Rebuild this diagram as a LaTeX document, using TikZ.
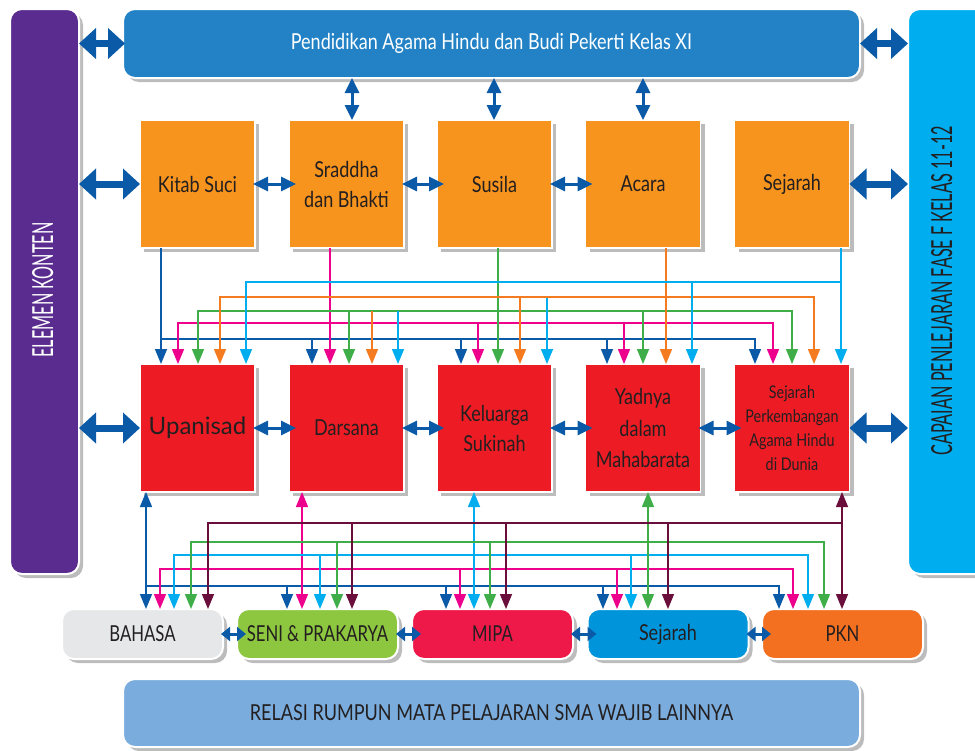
\documentclass[tikz,border=0pt]{standalone}
\usepackage{fontspec}
\setmainfont{Lato}[FakeStretch=0.82]
\newfontfamily\narrowfont{Lato}[FakeStretch=0.56]
\newfontfamily\capsfont{Lato}[FakeStretch=0.76]
\newfontfamily\widefont{Lato}
\usetikzlibrary{arrows.meta,shadows}
\definecolor{cPurple}{HTML}{5B2C8F}
\definecolor{cTop}{HTML}{2282C5}
\definecolor{cCyanBar}{HTML}{00AEEF}
\definecolor{cOrange}{HTML}{F7941E}
\definecolor{cRed}{HTML}{ED1C24}
\definecolor{cGray}{HTML}{E6E7E8}
\definecolor{cGreenBox}{HTML}{8DC63F}
\definecolor{cMipa}{HTML}{EE1849}
\definecolor{cSejBox}{HTML}{0095DA}
\definecolor{cPkn}{HTML}{F37021}
\definecolor{cRelasi}{HTML}{7AADDD}
\definecolor{cText}{HTML}{231F20}
\definecolor{lBlue}{HTML}{0B5AA7}
\definecolor{lMag}{HTML}{EC008C}
\definecolor{lGreen}{HTML}{3FAE49}
\definecolor{lOrange}{HTML}{F47B20}
\definecolor{lCyan}{HTML}{00AEEF}
\definecolor{lMaroon}{HTML}{6A0F3B}
\begin{document}
\begin{tikzpicture}[x=1pt,y=-1pt,
  box/.style={draw=white, line width=1.5pt, outer sep=0pt, inner sep=2pt, align=center, text=cText,
    font=\fontsize{22}{30}\selectfont,
    drop shadow={shadow xshift=4pt, shadow yshift=-4pt, opacity=0.35, fill=black!75}},
  obox/.style={box, fill=cOrange, minimum width=115pt, minimum height=128pt},
  rbox/.style={box, fill=cRed, minimum width=115pt, minimum height=128pt},
  bbox/.style={box, rounded corners=12pt, minimum width=161pt, minimum height=50pt, line width=2pt,
    font=\capsfont\fontsize{22}{30}\selectfont},
  bar/.style={box, rounded corners=12pt, line width=2pt},
  cl/.style={line width=1.5pt},
  one/.style={-{Triangle[width=12pt,length=15pt]}},
  two/.style={{Triangle[width=12pt,length=15pt]}-{Triangle[width=12pt,length=15pt]}},
  fat/.style={draw=lBlue, line width=7pt, {Triangle[width=30pt,length=17pt]}-{Triangle[width=30pt,length=17pt]}},
  med/.style={draw=lBlue, line width=3pt, {Triangle[width=14pt,length=15pt]}-{Triangle[width=14pt,length=15pt]}},
  sm/.style={draw=lBlue, line width=3pt, {Triangle[width=14pt,length=9pt]}-{Triangle[width=14pt,length=9pt]}},
  rottext/.style={rotate=90, anchor=base, font=\narrowfont\fontsize{29}{29}\selectfont}
]
\useasboundingbox (0,0) rectangle (975,750);

% side bars and top/bottom bars
\node[bar, fill=cPurple, minimum width=69pt, minimum height=565pt] (elemen) at (44.5,291.5) {};
\node[rottext, text=white] (eltext) at (53,290) {ELEMEN KONTEN};
\node[bar, fill=cCyanBar, minimum width=82pt, minimum height=565pt] (capbar) at (949,291.5) {};
\node[rottext, text=cText] (captext) at (952,291) {CAPAIAN PENLEJARAN FASE F KELAS 11-12};
\node[bar, fill=cTop, text=white, minimum width=737pt, minimum height=69pt] (top) at (491.5,43.5) {Pendidikan Agama Hindu dan Budi Pekerti Kelas XI};
\node[bar, fill=cRelasi, minimum width=737pt, minimum height=68pt] (relasi) at (491.5,713) {RELASI RUMPUN MATA PELAJARAN SMA WAJIB LAINNYA};

% orange row
\node[obox] (k1) at (197.5,184) {Kitab Suci};
\node[obox] (k2) at (346.5,184) {Sraddha\\dan Bhakti};
\node[obox] (k3) at (494.5,184) {Susila};
\node[obox] (k4) at (643,184) {Acara};
\node[obox] (k5) at (792,184) {Sejarah};

% red row
\node[rbox, font=\widefont\fontsize{24}{30}\selectfont] (r1) at (197.5,428) {Upanisad};
\node[rbox] (r2) at (346.5,428) {Darsana};
\node[rbox] (r3) at (494.5,428) {Keluarga\\Sukinah};
\node[rbox, font=\fontsize{22}{31.5}\selectfont] (r4) at (643,428) {Yadnya\\dalam\\Mahabarata};
\node[rbox, font=\fontsize{17.5}{24}\selectfont] (r5) at (792,428) {Sejarah\\Perkembangan\\Agama Hindu\\di Dunia};

% bottom row
\node[bbox, fill=cGray] (b1) at (142.5,634) {BAHASA};
\node[bbox, fill=cGreenBox] (b2) at (317.5,634) {SENI \& PRAKARYA};
\node[bbox, fill=cMipa] (b3) at (492.5,634) {MIPA};
\node[bbox, fill=cSejBox, font=\fontsize{22}{30}\selectfont] (b4) at (668,634) {Sejarah};
\node[bbox, fill=cPkn] (b5) at (842.5,634) {PKN};

% fat arrows to side bars
\draw[fat] (elemen.east |- top.west) -- ([xshift=2pt]top.west);
\draw[fat] (elemen.east |- k1.west) -- (k1.west);
\draw[fat] (elemen.east |- r1.west) -- (r1.west);
\draw[fat] (top.east) -- (capbar.west |- top.east);
\draw[fat] (k5.east) -- (capbar.west |- k5.east);
\draw[fat] (r5.east) -- (capbar.west |- r5.east);

% top bar to orange boxes
\draw[med] (352,0 |- top.south) -- (352,0 |- k2.north);
\draw[med] (494,0 |- top.south) -- (494,0 |- k3.north);
\draw[med] (643,0 |- top.south) -- (643,0 |- k4.north);

% arrows between boxes in rows
\draw[med] ([xshift=-2pt]k1.east) -- ([xshift=7pt]k2.west);
\draw[med] ([xshift=-2pt]k2.east) -- ([xshift=7pt]k3.west);
\draw[med] ([xshift=-2pt]k3.east) -- ([xshift=7pt]k4.west);
\draw[med] ([xshift=-2pt]r1.east) -- ([xshift=7pt]r2.west);
\draw[med] ([xshift=-2pt]r2.east) -- ([xshift=7pt]r3.west);
\draw[med] ([xshift=-2pt]r3.east) -- ([xshift=7pt]r4.west);
\draw[med] ([xshift=-2pt]r4.east) -- ([xshift=7pt]r5.west);

\draw[sm] ([xshift=-2pt]b1.east) -- ([xshift=9pt]b2.west);
\draw[sm] ([xshift=-2pt]b2.east) -- ([xshift=9pt]b3.west);
\draw[sm] ([xshift=-2pt]b3.east) -- ([xshift=9pt]b4.west);
\draw[sm] ([xshift=-2pt]b4.east) -- ([xshift=9pt]b5.west);

% ---- orange -> red connectors ----
% Kitab Suci (blue)
\draw[cl, lBlue, one] (161,0 |- k1.south) -- (161,0 |- r1.north);
\draw[cl, lBlue, one] (161,339) -- (755,339) -- (755,0 |- r5.north);
\draw[cl, lBlue, one] (312,339) -- (312,0 |- r2.north);
\draw[cl, lBlue, one] (461,339) -- (461,0 |- r3.north);
\draw[cl, lBlue, one] (607,339) -- (607,0 |- r4.north);
% Sraddha (magenta)
\draw[cl, lMag, one] (330,0 |- k2.south) -- (330,0 |- r2.north);
\draw[cl, lMag, two] (178,0 |- r1.north) -- (178,323) -- (773,323) -- (773,0 |- r5.north);
\draw[cl, lMag, one] (478,323) -- (478,0 |- r3.north);
\draw[cl, lMag, one] (624,323) -- (624,0 |- r4.north);
% Susila (green)
\draw[cl, lGreen, one] (498,0 |- k3.south) -- (498,0 |- r3.north);
\draw[cl, lGreen, two] (198,0 |- r1.north) -- (198,311) -- (792,311) -- (792,0 |- r5.north);
\draw[cl, lGreen, one] (349,311) -- (349,0 |- r2.north);
\draw[cl, lGreen, one] (643,311) -- (643,0 |- r4.north);
% Acara (orange)
\draw[cl, lOrange, one] (666,0 |- k4.south) -- (666,0 |- r4.north);
\draw[cl, lOrange, two] (220,0 |- r1.north) -- (220,297) -- (814,297) -- (814,0 |- r5.north);
\draw[cl, lOrange, one] (372,311) -- (372,0 |- r2.north);
\draw[cl, lOrange, one] (520,297) -- (520,0 |- r3.north);
% Sejarah (cyan)
\draw[cl, lCyan, one] (841,0 |- k5.south) -- (841,0 |- r5.north);
\draw[cl, lCyan, one] (841,282) -- (246,282) -- (246,0 |- r1.north);
\draw[cl, lCyan, one] (398,311) -- (398,0 |- r2.north);
\draw[cl, lCyan, one] (547,298) -- (547,0 |- r3.north);
\draw[cl, lCyan, one] (692,282) -- (692,0 |- r4.north);

% ---- red -> bottom connectors ----
% Upanisad (blue)
\draw[cl, lBlue, two] (146,0 |- r1.south) -- (146,0 |- b1.north);
\draw[cl, lBlue, one] (146,586) -- (779,586) -- (779,0 |- b5.north);
\draw[cl, lBlue, one] (287,586) -- (287,0 |- b2.north);
\draw[cl, lBlue, one] (446,586) -- (446,0 |- b3.north);
\draw[cl, lBlue, one] (603,586) -- (603,0 |- b4.north);
% Darsana (magenta)
\draw[cl, lMag, two] (302,0 |- r2.south) -- (302,0 |- b2.north);
\draw[cl, lMag, two] (160,0 |- b1.north) -- (160,569) -- (793,569) -- (793,0 |- b5.north);
\draw[cl, lMag, one] (460,569) -- (460,0 |- b3.north);
\draw[cl, lMag, one] (617,569) -- (617,0 |- b4.north);
% Keluarga (cyan)
\draw[cl, lCyan, two] (474,0 |- r3.south) -- (474,0 |- b3.north);
\draw[cl, lCyan, two] (174,0 |- b1.north) -- (174,555) -- (808,555) -- (808,0 |- b5.north);
\draw[cl, lCyan, one] (320,555) -- (320,0 |- b2.north);
\draw[cl, lCyan, one] (631,555) -- (631,0 |- b4.north);
% Yadnya (green)
\draw[cl, lGreen, two] (648,0 |- r4.south) -- (648,0 |- b4.north);
\draw[cl, lGreen, two] (191,0 |- b1.north) -- (191,542) -- (824,542) -- (824,0 |- b5.north);
\draw[cl, lGreen, one] (337,542) -- (337,0 |- b2.north);
\draw[cl, lGreen, one] (490,542) -- (490,0 |- b3.north);
% Sejarah (maroon)
\draw[cl, lMaroon, two] (842,0 |- r5.south) -- (842,0 |- b5.north);
\draw[cl, lMaroon, one] (842,523) -- (208,523) -- (208,0 |- b1.north);
\draw[cl, lMaroon, one] (352,523) -- (352,0 |- b2.north);
\draw[cl, lMaroon, one] (506,523) -- (506,0 |- b3.north);
\draw[cl, lMaroon, one] (668,523) -- (668,0 |- b4.north);
\end{tikzpicture}
\end{document}
